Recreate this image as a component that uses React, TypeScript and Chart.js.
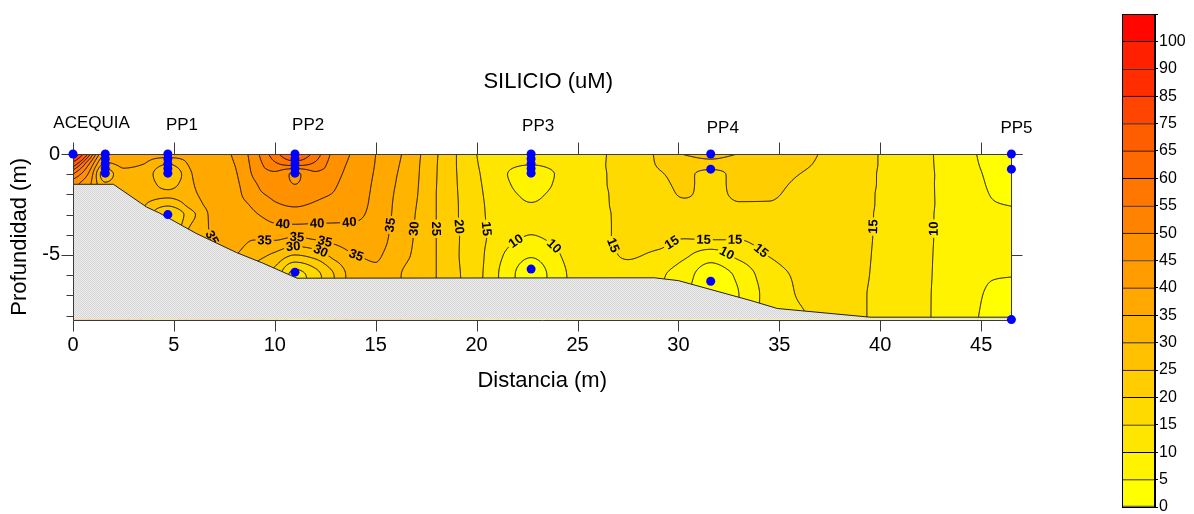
import React, { useEffect, useRef } from 'react';
import { Chart, registerables } from 'chart.js';

Chart.register(...registerables);

const FONT = '"Liberation Sans", Arial, Helvetica, sans-serif';

// Distances (m) of the vertical profiles of the section
const PROFILE_X = [0, 0.8, 1.6, 2.5, 3.5, 4.7, 6, 7, 8, 9, 10, 11, 12, 13, 14, 15, 16, 17, 18, 19, 20, 21, 22.7, 24.5, 26, 27.5, 29, 30.3, 31.6, 33, 34.5, 36, 38, 40, 42, 44, 45.5, 46.5];
// Depth (m) of each value inside a profile
const PROFILE_DEPTH = [0, -0.5, -1, -1.5, -2, -2.5, -3, -4, -5, -6, -7, -8.2];
// Silicio (uM): one profile per distance, one value per depth
const SILICIO = [
  [100, 70, 55, 47, 45, 44, 44, 44, 44, 44, 44, 44],
  [62, 50, 44, 41, 40, 40, 40, 40, 40, 40, 40, 40],
  [40, 34, 27, 31, 35, 37, 37, 37, 37, 37, 37, 37],
  [38, 36, 34, 34, 35, 36, 36, 36, 36, 36, 36, 36],
  [37, 35, 33, 33, 32.5, 30.5, 29, 29, 29, 29, 29, 29],
  [38, 30, 25, 28, 31, 26, 20, 20, 20, 20, 20, 20],
  [37, 36.5, 35.5, 35, 34.5, 33, 29.5, 33, 33, 33, 33, 33],
  [38.5, 38.3, 38, 37.6, 37.2, 36.8, 36.4, 35.3, 34.5, 34, 34, 34],
  [40.5, 40, 39.5, 39, 38.5, 38, 37.5, 36.5, 35, 33, 33, 33],
  [48, 47, 45.8, 44.5, 43.5, 41, 39.5, 36, 32, 28, 28, 28],
  [58, 54, 49, 47.5, 46, 44.5, 42, 37, 29, 23, 21, 21],
  [66, 57, 44, 45, 47, 45.5, 43, 36, 25, 13, 12, 12],
  [58, 54, 49, 47.5, 46, 44.5, 42, 37, 27, 18, 17, 17],
  [48, 47, 46, 45.3, 44.6, 43, 41.5, 37.5, 32, 25.5, 25, 25],
  [44, 43.5, 43, 42.5, 42, 41.5, 40.8, 38, 35, 33, 33, 33],
  [40, 39.8, 39.5, 39.2, 39, 38.8, 38.5, 37.5, 35.5, 34.5, 34.5, 34.5],
  [36.3, 35.8, 35.3, 34.9, 34.5, 34.2, 34, 33.3, 32.5, 31, 31, 31],
  [31.3, 31, 30.8, 30.6, 30.4, 30.1, 29.8, 29.5, 29, 27.3, 27, 27],
  [25.5, 25.3, 25.2, 25.1, 25, 25, 25, 25, 25, 25, 25, 25],
  [20, 20, 20.1, 20.2, 20.3, 20.4, 20.4, 20.6, 20.5, 20.8, 21, 21],
  [15, 15.3, 15.7, 16, 16.3, 16.5, 16.7, 17, 17, 16.8, 16.5, 16.5],
  [12.5, 12.2, 12, 12.3, 12.6, 13, 13.2, 13.3, 11.5, 10.5, 10.5, 10.5],
  [12, 10.2, 7, 8, 9.3, 10.2, 11.5, 10, 5.5, 2.5, 2.5, 2.5],
  [13, 12.5, 12, 12, 12.2, 12.5, 12.8, 12.5, 11, 10.1, 10, 10],
  [14.5, 14.5, 14.4, 14.4, 14.3, 14.3, 14.2, 14, 13.5, 13.5, 13.5, 13.5],
  [16.5, 16.5, 16.4, 16.3, 16.2, 16.1, 16, 16, 15.3, 14, 14, 14],
  [20.8, 20.3, 19.6, 19, 18.4, 17.8, 17.3, 16.5, 14.3, 11, 10.5, 10.5],
  [25.3, 22, 20.8, 20.6, 20.3, 19.3, 18.5, 15.8, 11, 7, 6, 6],
  [27, 23, 18.5, 18.8, 19, 18.8, 18.3, 16.5, 7.5, 2.5, 2, 2],
  [24.8, 22, 21.2, 20.9, 20.5, 19.8, 19.2, 16, 11.5, 6, 5, 5],
  [22, 21.6, 21.2, 20.8, 20.4, 19.8, 19.3, 17, 15.2, 13, 12, 12],
  [21, 20.6, 20, 19.4, 18.9, 18.5, 18.2, 17.5, 16.5, 15.5, 15.2, 14.5],
  [18.5, 18.3, 18, 17.7, 17.5, 17.3, 17.2, 16.8, 16.5, 16.3, 16, 16],
  [14.8, 14.8, 14.7, 14.7, 14.6, 14.6, 14.5, 14.5, 14.4, 14.3, 14.2, 14.2],
  [11.5, 11.5, 11.5, 11.4, 11.4, 11.4, 11.3, 11.3, 11.2, 11.1, 11, 11],
  [6.5, 6.7, 7, 7.2, 7.3, 7.4, 7.4, 7.4, 7.3, 7.2, 7, 6.8],
  [3.8, 4, 4.3, 4.6, 4.9, 5.2, 5.5, 5.8, 5.6, 5.2, 4.4, 3.8],
  [2.5, 2.7, 3, 3.6, 4.2, 4.9, 5.4, 6, 5.8, 5.1, 3.5, 2.5],
];

// Contour / colour levels (uM)
const LEVELS = [0, 5, 10, 15, 20, 25, 30, 35, 40, 45, 50, 55, 60, 65, 75, 85, 90, 100];
const COLOR_TOP = 103;

// Terrain profile (m)
const GROUND_X = [0, 2.0, 3.65, 4.3, 6.1, 8.1, 9.4, 11.1, 28.8, 30.0, 33.6, 34.9, 39.5, 46.5];
const GROUND_Y = [-1.5, -1.5, -2.63, -2.93, -3.93, -4.88, -5.4, -6.15, -6.13, -6.27, -7.26, -7.65, -8.08, -8.08];

// Sampling points (m)
const SAMPLE_X = [0, 1.6, 1.6, 1.6, 1.6, 1.6, 4.7, 4.7, 4.7, 4.7, 4.7, 4.7, 11, 11, 11, 11, 11, 11, 22.7, 22.7, 22.7, 22.7, 22.7, 22.7, 31.6, 31.6, 31.6, 46.5, 46.5, 46.5];
const SAMPLE_Y = [0, 0, -0.24, -0.48, -0.72, -0.95, 0, -0.24, -0.48, -0.72, -0.95, -3, 0, -0.24, -0.48, -0.72, -0.95, -5.85, 0, -0.24, -0.48, -0.72, -0.95, -5.7, 0, -0.75, -6.3, 0, -0.75, -8.2];

// Station names written above the section
const STATION_NAMES = ['ACEQUIA', 'PP1', 'PP2', 'PP3', 'PP4', 'PP5'];
const STATION_X = [0.92, 5.4, 11.65, 23.05, 32.2, 46.75];
const STATION_Y = [1.29, 1.19, 1.19, 1.14, 1.04, 1.04];

// Axis tick values
const X_TICKS = [0, 5, 10, 15, 20, 25, 30, 35, 40, 45];
const Y_TICKS = [-5, 0];

// Contour labels: level and approximate place on the line
const LABEL_LEVEL = [40, 40, 40, 35, 35, 35, 35, 35, 30, 30, 35, 30, 25, 20, 15, 10, 10, 15, 15, 15, 15, 15, 10, 15, 10];
const LABEL_X = [10.4, 12.1, 13.7, 7.3, 9.5, 11.1, 12.5, 14.1, 10.9, 12.25, 15.6, 16.9, 18.05, 19.1, 20.5, 22.0, 23.8, 26.8, 29.6, 31.3, 32.8, 34.2, 32.4, 39.9, 42.9];
const LABEL_Y = [-3.45, -3.5, -3.45, -3.9, -4.35, -4.1, -4.25, -4.65, -4.4, -4.85, -3.5, -3.7, -3.7, -3.6, -3.7, -4.4, -4.6, -4.5, -4.25, -3.9, -4.1, -4.65, -4.9, -3.6, -3.7];

const X_MAX = 46.5;
const Y_MIN = -8.2;

function bandColor(k: number): [number, number, number] {
  const g = Math.max(0, Math.round(255 * (1 - LEVELS[k] / COLOR_TOP)));
  return [255, g, 0];
}

function bandIndex(v: number): number {
  let k = 0;
  while (k + 1 < LEVELS.length && v >= LEVELS[k + 1]) k++;
  return k;
}

function pchipSlopes(xs: number[], ys: ArrayLike<number>): number[] {
  const n = xs.length;
  const h: number[] = [];
  const d: number[] = [];
  for (let i = 0; i < n - 1; i++) {
    h.push(xs[i + 1] - xs[i]);
    d.push((ys[i + 1] - ys[i]) / h[i]);
  }
  const m = new Array(n).fill(0);
  m[0] = d[0];
  m[n - 1] = d[n - 2];
  for (let i = 1; i < n - 1; i++) {
    if (d[i - 1] === 0 || d[i] === 0 || (d[i - 1] > 0) !== (d[i] > 0)) m[i] = 0;
    else {
      const w1 = 2 * h[i] + h[i - 1];
      const w2 = h[i] + 2 * h[i - 1];
      m[i] = (w1 + w2) / (w1 / d[i - 1] + w2 / d[i]);
    }
  }
  return m;
}

function pchipEval(xs: number[], ys: ArrayLike<number>, m: number[], x: number): number {
  const n = xs.length;
  if (x <= xs[0]) return ys[0];
  if (x >= xs[n - 1]) return ys[n - 1];
  let lo = 0;
  let hi = n - 1;
  while (hi - lo > 1) {
    const mid = (lo + hi) >> 1;
    if (xs[mid] <= x) lo = mid;
    else hi = mid;
  }
  const h = xs[lo + 1] - xs[lo];
  const t = (x - xs[lo]) / h;
  const t2 = t * t;
  const t3 = t2 * t;
  return (2 * t3 - 3 * t2 + 1) * ys[lo] + (t3 - 2 * t2 + t) * h * m[lo] + (-2 * t3 + 3 * t2) * ys[lo + 1] + (t3 - t2) * h * m[lo + 1];
}

// Marching squares over the pixel grid for one level
function traceLevel(f: Float32Array, W: number, H: number, L: number, ox: number, oy: number, path: Path2D) {
  for (let j = 0; j < H - 1; j++) {
    for (let i = 0; i < W - 1; i++) {
      const a = f[j * W + i];
      const b = f[j * W + i + 1];
      const c = f[(j + 1) * W + i + 1];
      const d = f[(j + 1) * W + i];
      let idx = 0;
      if (a >= L) idx |= 1;
      if (b >= L) idx |= 2;
      if (c >= L) idx |= 4;
      if (d >= L) idx |= 8;
      if (idx === 0 || idx === 15) continue;
      const tx = ox + i + (L - a) / (b - a), ty = oy + j;
      const rx = ox + i + 1, ry = oy + j + (L - b) / (c - b);
      const bx = ox + i + (L - d) / (c - d), by = oy + j + 1;
      const lx = ox + i, ly = oy + j + (L - a) / (d - a);
      const seg = (x1: number, y1: number, x2: number, y2: number) => {
        path.moveTo(x1, y1);
        path.lineTo(x2, y2);
      };
      const centerHigh = (a + b + c + d) / 4 >= L;
      switch (idx) {
        case 1: case 14: seg(lx, ly, tx, ty); break;
        case 2: case 13: seg(tx, ty, rx, ry); break;
        case 3: case 12: seg(lx, ly, rx, ry); break;
        case 4: case 11: seg(rx, ry, bx, by); break;
        case 6: case 9: seg(tx, ty, bx, by); break;
        case 7: case 8: seg(lx, ly, bx, by); break;
        case 5:
          if (centerHigh) { seg(tx, ty, rx, ry); seg(lx, ly, bx, by); }
          else { seg(lx, ly, tx, ty); seg(rx, ry, bx, by); }
          break;
        case 10:
          if (centerHigh) { seg(lx, ly, tx, ty); seg(rx, ry, bx, by); }
          else { seg(tx, ty, rx, ry); seg(lx, ly, bx, by); }
          break;
      }
    }
  }
}

function makeGroundPattern(ctx: CanvasRenderingContext2D): CanvasPattern | string {
  const pc = document.createElement('canvas');
  pc.width = 2;
  pc.height = 2;
  const g = pc.getContext('2d');
  if (!g) return '#e0e0e0';
  g.fillStyle = '#ececec';
  g.fillRect(0, 0, 2, 2);
  g.fillStyle = '#d6d6d6';
  g.fillRect(0, 0, 1, 1);
  g.fillRect(1, 1, 1, 1);
  return ctx.createPattern(pc, 'repeat') || '#e0e0e0';
}

const sectionPlugin = {
  id: 'silicioSection',
  beforeDatasetsDraw(chart: any) {
    const { ctx, chartArea: area } = chart;
    const xs = chart.scales.x;
    const ys = chart.scales.y;
    const x0 = Math.floor(area.left);
    const y0 = Math.floor(area.top);
    const W = Math.ceil(area.right) - x0;
    const H = Math.ceil(area.bottom) - y0;

    // Interpolated field on the pixel grid
    const depthAsc = PROFILE_DEPTH.map((d) => -d);
    const ySlopes = SILICIO.map((p) => pchipSlopes(depthAsc, p));
    const field = new Float32Array(W * H);
    const rowVals = new Array(PROFILE_X.length).fill(0);
    const xVals = new Float64Array(W);
    for (let i = 0; i < W; i++) xVals[i] = xs.getValueForPixel(x0 + i + 0.5);
    for (let j = 0; j < H; j++) {
      const depth = -ys.getValueForPixel(y0 + j + 0.5);
      for (let c = 0; c < PROFILE_X.length; c++) rowVals[c] = pchipEval(depthAsc, SILICIO[c], ySlopes[c], depth);
      const m = pchipSlopes(PROFILE_X, rowVals);
      for (let i = 0; i < W; i++) field[j * W + i] = pchipEval(PROFILE_X, rowVals, m, xVals[i]);
    }

    // Filled bands
    const palette = LEVELS.map((_, k) => bandColor(k));
    const img = new ImageData(W, H);
    for (let p = 0; p < W * H; p++) {
      const col = palette[bandIndex(field[p])];
      img.data[p * 4] = col[0];
      img.data[p * 4 + 1] = col[1];
      img.data[p * 4 + 2] = col[2];
      img.data[p * 4 + 3] = 255;
    }
    const off = document.createElement('canvas');
    off.width = W;
    off.height = H;
    off.getContext('2d')!.putImageData(img, 0, 0);

    ctx.save();
    ctx.beginPath();
    ctx.rect(area.left, area.top, area.right - area.left, area.bottom - area.top);
    ctx.clip();
    ctx.drawImage(off, x0, y0);

    // Contour lines
    const lines = new Path2D();
    for (let k = 1; k < LEVELS.length; k++) traceLevel(field, W, H, LEVELS[k], x0 + 0.5, y0 + 0.5, lines);

    const sample = (px: number, py: number) => {
      let u = px - x0 - 0.5;
      let v = py - y0 - 0.5;
      u = Math.max(0, Math.min(W - 1.001, u));
      v = Math.max(0, Math.min(H - 1.001, v));
      const i = Math.floor(u);
      const j = Math.floor(v);
      const fu = u - i;
      const fv = v - j;
      const a = field[j * W + i];
      const b = field[j * W + i + 1];
      const c = field[(j + 1) * W + i + 1];
      const d = field[(j + 1) * W + i];
      return a * (1 - fu) * (1 - fv) + b * fu * (1 - fv) + c * fu * fv + d * (1 - fu) * fv;
    };

    // Contour labels, moved onto their line
    ctx.font = `bold 13px ${FONT}`;
    const labels = LABEL_LEVEL.map((L, n) => {
      let px = xs.getPixelForValue(LABEL_X[n]);
      let py = ys.getPixelForValue(LABEL_Y[n]);
      let gx = 1;
      let gy = 0;
      for (let it = 0; it < 30; it++) {
        const v = sample(px, py);
        gx = (sample(px + 1, py) - sample(px - 1, py)) / 2;
        gy = (sample(px, py + 1) - sample(px, py - 1)) / 2;
        const g2 = gx * gx + gy * gy;
        if (g2 < 1e-9) break;
        let dx = (-(v - L) * gx) / g2;
        let dy = (-(v - L) * gy) / g2;
        const len = Math.hypot(dx, dy);
        if (len > 2) {
          dx *= 2 / len;
          dy *= 2 / len;
        }
        px += dx;
        py += dy;
        if (Math.abs(v - L) < 0.005) break;
      }
      let ang = Math.atan2(gy, gx) + Math.PI / 2;
      while (ang > Math.PI / 2) ang -= Math.PI;
      while (ang < -Math.PI / 2) ang += Math.PI;
      const text = String(L);
      const w = ctx.measureText(text).width + 4;
      return { px, py, ang, text, w, h: 13 };
    });

    ctx.save();
    ctx.beginPath();
    ctx.rect(area.left, area.top, area.right - area.left, area.bottom - area.top);
    labels.forEach((lb) => {
      const cs = Math.cos(lb.ang);
      const sn = Math.sin(lb.ang);
      const hw = lb.w / 2;
      const hh = lb.h / 2;
      const pts = [[-hw, -hh], [hw, -hh], [hw, hh], [-hw, hh]].map(([u, v]) => [lb.px + u * cs - v * sn, lb.py + u * sn + v * cs]);
      ctx.moveTo(pts[0][0], pts[0][1]);
      for (let q = 1; q < 4; q++) ctx.lineTo(pts[q][0], pts[q][1]);
      ctx.closePath();
    });
    ctx.clip('evenodd');
    ctx.strokeStyle = '#000';
    ctx.lineWidth = 1;
    ctx.stroke(lines);
    ctx.restore();

    ctx.fillStyle = '#000';
    ctx.textAlign = 'center';
    ctx.textBaseline = 'middle';
    labels.forEach((lb) => {
      ctx.save();
      ctx.translate(lb.px, lb.py);
      ctx.rotate(lb.ang);
      ctx.fillText(lb.text, 0, 0.5);
      ctx.restore();
    });

    // Terrain below the section
    ctx.beginPath();
    GROUND_X.forEach((gxv, n) => {
      const px = xs.getPixelForValue(gxv);
      const py = ys.getPixelForValue(GROUND_Y[n]);
      if (n === 0) ctx.moveTo(px, py);
      else ctx.lineTo(px, py);
    });
    ctx.lineTo(xs.getPixelForValue(X_MAX), area.bottom);
    ctx.lineTo(area.left, area.bottom);
    ctx.closePath();
    ctx.fillStyle = makeGroundPattern(ctx);
    ctx.fill();
    ctx.beginPath();
    GROUND_X.forEach((gxv, n) => {
      const px = xs.getPixelForValue(gxv);
      const py = ys.getPixelForValue(GROUND_Y[n]);
      if (n === 0) ctx.moveTo(px, py);
      else ctx.lineTo(px, py);
    });
    ctx.strokeStyle = '#222';
    ctx.lineWidth = 1;
    ctx.stroke();
    ctx.restore();

    // Frame and tick marks
    ctx.save();
    ctx.strokeStyle = '#3a3a3a';
    ctx.lineWidth = 1;
    const L = Math.round(area.left) + 0.5;
    const R = Math.round(area.right) + 0.5;
    const T = Math.round(area.top) + 0.5;
    const B = Math.round(area.bottom) + 0.5;
    ctx.beginPath();
    ctx.moveTo(L, T);
    ctx.lineTo(L, B);
    ctx.lineTo(R, B);
    ctx.lineTo(R, T);
    ctx.moveTo(L, T);
    ctx.lineTo(R + 11, T);
    X_TICKS.forEach((v) => {
      const px = Math.round(xs.getPixelForValue(v)) + 0.5;
      ctx.moveTo(px, T);
      ctx.lineTo(px, T - 12);
      ctx.moveTo(px, B);
      ctx.lineTo(px, B + 11);
    });
    for (let v = 0; v >= -8; v -= 1) {
      const py = Math.round(ys.getPixelForValue(v)) + 0.5;
      const major = Y_TICKS.includes(v);
      ctx.moveTo(L, py);
      ctx.lineTo(L - (major ? 12 : 7), py);
      if (major) {
        ctx.moveTo(R, py);
        ctx.lineTo(R + 11, py);
      }
    }
    ctx.stroke();
    ctx.restore();
  },
  afterDraw(chart: any) {
    const { ctx, chartArea: area } = chart;
    const xs = chart.scales.x;
    const ys = chart.scales.y;
    ctx.save();
    ctx.fillStyle = '#000';
    ctx.textAlign = 'center';
    ctx.textBaseline = 'alphabetic';
    ctx.font = `17px ${FONT}`;
    STATION_NAMES.forEach((name, n) => {
      ctx.fillText(name, xs.getPixelForValue(STATION_X[n]), ys.getPixelForValue(STATION_Y[n]));
    });
    ctx.font = `22px ${FONT}`;
    ctx.fillText('SILICIO (uM)', (area.left + area.right) / 2 + 6, 88);
    ctx.restore();
  },
};

const borderPlugin = {
  id: 'scaleFrame',
  afterDatasetsDraw(chart: any) {
    const { ctx, chartArea: a } = chart;
    ctx.save();
    ctx.strokeStyle = '#000';
    ctx.lineWidth = 1;
    ctx.strokeRect(Math.round(a.left) + 0.5, Math.round(a.top) + 0.5, Math.round(a.right - a.left) - 1, Math.round(a.bottom - a.top));
    ctx.restore();
  },
};

export default function App() {
  const mainRef = useRef<HTMLCanvasElement>(null);
  const barRef = useRef<HTMLCanvasElement>(null);

  useEffect(() => {
    Chart.defaults.font.family = FONT;
    Chart.defaults.color = '#000';

    const main = new Chart(mainRef.current as HTMLCanvasElement, {
      type: 'scatter',
      data: {
        datasets: [
          {
            label: 'Muestras',
            data: SAMPLE_X.map((x, i) => ({ x, y: SAMPLE_Y[i] })),
            pointRadius: 4.5,
            pointBackgroundColor: '#0000ff',
            pointBorderWidth: 0,
            clip: false as any,
          },
        ],
      },
      options: {
        responsive: false,
        animation: false,
        devicePixelRatio: 1,
        events: [],
        layout: { padding: { left: 0, top: 154, right: 1194 - 1011.4, bottom: 0 } },
        plugins: { legend: { display: false }, tooltip: { enabled: false }, title: { display: false } },
        scales: {
          x: {
            type: 'linear',
            position: 'bottom',
            min: 0,
            max: X_MAX,
            afterBuildTicks: (s: any) => {
              s.ticks = X_TICKS.map((value) => ({ value }));
            },
            afterFit: (s: any) => {
              s.height = 514 - 319.6;
            },
            grid: { display: false, drawTicks: false },
            border: { display: false },
            ticks: {
              autoSkip: false,
              maxRotation: 0,
              padding: 14,
              color: '#000',
              font: { size: 20 },
              callback: (v: any) => String(v),
            },
            title: { display: true, text: 'Distancia (m)', color: '#000', font: { size: 22 }, padding: { top: 0, bottom: 120 } },
          },
          y: {
            type: 'linear',
            min: Y_MIN,
            max: 0,
            afterBuildTicks: (s: any) => {
              s.ticks = Y_TICKS.map((value) => ({ value }));
            },
            afterFit: (s: any) => {
              s.width = 73;
            },
            grid: { display: false, drawTicks: false },
            border: { display: false },
            ticks: {
              autoSkip: false,
              padding: 13,
              color: '#000',
              font: { size: 20 },
              callback: (v: any) => String(v),
            },
            title: { display: true, text: 'Profundidad (m)', color: '#000', font: { size: 22 }, padding: { top: 7, bottom: 0 } },
          },
        },
      } as any,
      plugins: [sectionPlugin],
    });

    const bar = new Chart(barRef.current as HTMLCanvasElement, {
      type: 'bar',
      data: {
        labels: [''],
        datasets: LEVELS.map((lv, k) => {
          const c = bandColor(k);
          return {
            label: String(lv),
            data: [1],
            backgroundColor: `rgb(${c[0]},${c[1]},${c[2]})`,
            borderColor: '#000',
            borderWidth: { top: 1, bottom: k === 0 ? 1 : 0, left: 0, right: 0 },
            borderSkipped: false,
            barPercentage: 1,
            categoryPercentage: 1,
            stack: 'scale',
          };
        }),
      },
      options: {
        responsive: false,
        animation: false,
        devicePixelRatio: 1,
        events: [],
        layout: { padding: { left: 22, top: 14, bottom: 7, right: 0 } },
        plugins: { legend: { display: false }, tooltip: { enabled: false } },
        scales: {
          x: { display: false, stacked: true },
          y: {
            stacked: true,
            position: 'right',
            min: 0,
            max: LEVELS.length,
            afterFit: (s: any) => {
              s.width = 39;
              s.paddingTop = 0;
              s.paddingBottom = 0;
            },
            grid: { display: true, drawOnChartArea: false, drawTicks: true, tickLength: 3, color: '#000' },
            border: { display: true, color: '#000' },
            ticks: {
              stepSize: 1,
              autoSkip: false,
              padding: 1,
              color: '#000',
              font: { size: 16 },
              callback: (v: any) => (Number(v) < LEVELS.length ? String(LEVELS[Number(v)]) : ''),
            },
          },
        },
      } as any,
      plugins: [borderPlugin],
    });

    return () => {
      main.destroy();
      bar.destroy();
    };
  }, []);

  return (
    <div style={{ position: 'absolute', left: 0, top: 0, width: 1194, height: 514, background: '#fff' }}>
      <canvas ref={mainRef} width={1194} height={514} style={{ position: 'absolute', left: 0, top: 0 }} />
      <canvas ref={barRef} width={94} height={514} style={{ position: 'absolute', left: 1100, top: 0 }} />
    </div>
  );
}
